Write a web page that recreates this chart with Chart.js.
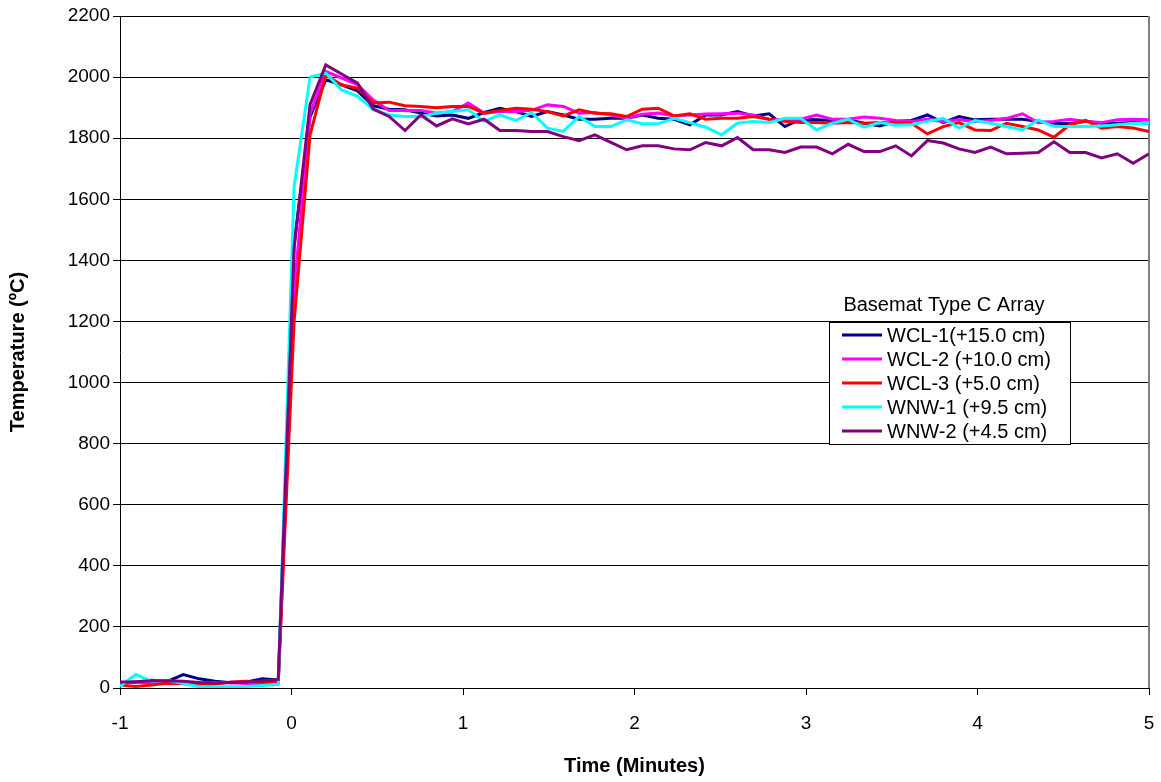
<!DOCTYPE html>
<html>
<head>
<meta charset="utf-8">
<title>Basemat Type C Array</title>
<script src="https://cdn.jsdelivr.net/npm/chart.js@4/dist/chart.umd.min.js"></script>
<style>
  html, body { margin: 0; padding: 0; background: #fff; }
  #wrap { width: 1161px; height: 782px; }
</style>
</head>
<body>
<div id="wrap"><canvas id="suhu" width="1161" height="782"></canvas></div>
<script>
"use strict";

// time in minutes (one reading every ~5.5 s)
var waktu = [
  -1.000, -0.908, -0.815, -0.723, -0.631, -0.538, -0.446, -0.354, -0.262, -0.169,
  -0.077, 0.015, 0.108, 0.200, 0.292, 0.385, 0.477, 0.569, 0.662, 0.754,
  0.846, 0.938, 1.031, 1.123, 1.215, 1.308, 1.400, 1.492, 1.585, 1.677,
  1.769, 1.862, 1.954, 2.046, 2.138, 2.231, 2.323, 2.415, 2.508, 2.600,
  2.692, 2.785, 2.877, 2.969, 3.062, 3.154, 3.246, 3.338, 3.431, 3.523,
  3.615, 3.708, 3.800, 3.892, 3.985, 4.077, 4.169, 4.262, 4.354, 4.446,
  4.538, 4.631, 4.723, 4.815, 4.908, 5.000
];

var wcl1 = [
  16, 20, 25, 22, 44, 30, 22, 17, 20, 30,
  26, 1450, 1870, 1991, 1975, 1955, 1906, 1895, 1893, 1882,
  1873, 1876, 1865, 1884, 1898, 1887, 1871, 1887, 1876, 1862,
  1862, 1865, 1865, 1876, 1865, 1862, 1844, 1876, 1876, 1887,
  1873, 1880, 1838, 1862, 1860, 1858, 1860, 1849, 1840, 1855,
  1858, 1876, 1851, 1871, 1860, 1862, 1862, 1862, 1855, 1849,
  1847, 1855, 1849, 1849, 1851, 1849
];
var wcl2 = [
  18, 20, 15, 14, 15, 16, 18, 17, 15, 14,
  18, 1300, 1880, 2018, 1997, 1975, 1925, 1891, 1891, 1891,
  1882, 1887, 1915, 1882, 1887, 1887, 1891, 1909, 1904, 1882,
  1884, 1876, 1865, 1878, 1882, 1873, 1876, 1879, 1880, 1882,
  1876, 1862, 1860, 1862, 1876, 1862, 1862, 1869, 1865, 1858,
  1855, 1862, 1855, 1860, 1855, 1858, 1865, 1880, 1851, 1855,
  1862, 1855, 1851, 1860, 1862, 1860
];
var wcl3 = [
  10, 5, 10, 16, 14, 10, 12, 20, 22, 18,
  20, 1200, 1810, 2007, 1974, 1964, 1915, 1918, 1906, 1904,
  1900, 1904, 1904, 1882, 1891, 1898, 1895, 1887, 1873, 1893,
  1882, 1880, 1871, 1895, 1898, 1873, 1880, 1862, 1865, 1865,
  1871, 1862, 1855, 1851, 1851, 1849, 1851, 1849, 1851, 1850,
  1849, 1814, 1838, 1851, 1827, 1825, 1849, 1838, 1827, 1803,
  1844, 1858, 1833, 1838, 1833, 1822
];
var wnw1 = [
  5, 44, 22, 25, 15, 4, 4, 4, 5, 8,
  12, 1640, 2000, 2013, 1958, 1937, 1893, 1876, 1871, 1871,
  1882, 1887, 1893, 1855, 1876, 1858, 1884, 1833, 1822, 1871,
  1838, 1838, 1860, 1847, 1847, 1865, 1851, 1836, 1811, 1849,
  1855, 1851, 1865, 1865, 1827, 1849, 1862, 1836, 1851, 1842,
  1844, 1855, 1865, 1833, 1858, 1849, 1838, 1827, 1860, 1838,
  1838, 1838, 1840, 1844, 1849, 1849
];
var wnw2 = [
  20, 20, 24, 24, 22, 18, 16, 18, 20, 24,
  28, 1440, 1910, 2040, 2010, 1980, 1895, 1871, 1825, 1876,
  1840, 1863, 1847, 1862, 1825, 1825, 1822, 1822, 1805, 1792,
  1811, 1786, 1762, 1775, 1775, 1765, 1762, 1786, 1775, 1802,
  1762, 1762, 1753, 1771, 1771, 1749, 1780, 1756, 1756, 1775,
  1742, 1792, 1784, 1765, 1753, 1771, 1749, 1751, 1753, 1788,
  1753, 1753, 1735, 1749, 1718, 1749
];

var namaSeri = [
  "WCL-1(+15.0 cm)",
  "WCL-2 (+10.0 cm)",
  "WCL-3 (+5.0 cm)",
  "WNW-1 (+9.5 cm)",
  "WNW-2 (+4.5 cm)"
];
var warnaSeri = ["#000080", "#FF00FF", "#FF0000", "#00FFFF", "#800080"];
var judulLegend = "Basemat Type C Array";

var huruf = "'Liberation Sans', Arial, Helvetica, sans-serif";

function titik(nilai) {
  return nilai.map(function (v, i) {
    return { x: waktu[i], y: v };
  });
}

// legend box drawn by hand, Excel style (title sits above the box)
var legendManual = {
  id: "legendManual",
  afterDraw: function (chart) {
    var ctx = chart.ctx;
    var kiri = 829, kanan = 1071, atas = 322, bawah = 445;
    ctx.save();
    ctx.fillStyle = "#fff";
    ctx.fillRect(kiri, atas, kanan - kiri, bawah - atas);
    ctx.strokeStyle = "#000";
    ctx.lineWidth = 1;
    ctx.strokeRect(kiri + 0.5, atas + 0.5, kanan - kiri - 1, bawah - atas - 1);

    ctx.font = "20px " + huruf;
    ctx.fillStyle = "#000";
    ctx.textBaseline = "middle";
    ctx.textAlign = "center";
    ctx.fillText(judulLegend, 944, 305);

    ctx.textAlign = "left";
    chart.data.datasets.forEach(function (ds, i) {
      var y = 335 + i * 24;
      ctx.strokeStyle = ds.borderColor;
      ctx.lineWidth = 3;
      ctx.beginPath();
      ctx.moveTo(842, y);
      ctx.lineTo(882, y);
      ctx.stroke();
      ctx.fillStyle = "#000";
      ctx.fillText(ds.label, 887, y + 1);
    });
    ctx.restore();
  }
};

// grey right edge of the plot area
var tepiKanan = {
  id: "tepiKanan",
  beforeDatasetsDraw: function (chart) {
    var a = chart.chartArea;
    var ctx = chart.ctx;
    ctx.save();
    ctx.strokeStyle = "#808080";
    ctx.lineWidth = 2;
    ctx.beginPath();
    ctx.moveTo(Math.round(a.right), a.top);
    ctx.lineTo(Math.round(a.right), a.bottom);
    ctx.stroke();
    ctx.restore();
  }
};

var dataSeri = [wcl1, wcl2, wcl3, wnw1, wnw2];

let grafikSuhu = new Chart(document.getElementById("suhu").getContext("2d"), {
  type: "line",
  data: {
    datasets: dataSeri.map(function (seri, i) {
      return {
        label: namaSeri[i],
        data: titik(seri),
        borderColor: warnaSeri[i],
        backgroundColor: warnaSeri[i],
        borderWidth: 3,
        pointRadius: 0,
        tension: 0,
        fill: false,
        order: dataSeri.length - i
      };
    })
  },
  options: {
    responsive: false,
    animation: false,
    layout: { padding: { top: 16, right: 12, left: 0, bottom: 0 } },
    plugins: {
      legend: { display: false },
      tooltip: { enabled: false }
    },
    scales: {
      x: {
        type: "linear",
        min: -1,
        max: 5,
        ticks: {
          stepSize: 1,
          color: "#000",
          padding: 17,
          font: { family: huruf, size: 19 },
          callback: function (v) { return String(v); }
        },
        grid: { drawOnChartArea: false, color: "#000", tickLength: 7 },
        border: { color: "#000" },
        title: {
          display: true,
          text: "Time (Minutes)",
          color: "#000",
          font: { family: huruf, size: 20, weight: "bold" },
          padding: { top: 0, bottom: 4 }
        },
        afterFit: function (s) {
          s.height = 94;
          // labels at the ends fit inside the layout padding already
          s.paddingLeft = 0;
          s.paddingRight = 0;
        }
      },
      y: {
        min: 0,
        max: 2200,
        ticks: {
          stepSize: 200,
          color: "#000",
          padding: 3,
          font: { family: huruf, size: 19 },
          callback: function (v) { return String(v); }
        },
        grid: { color: "#000", tickLength: 7 },
        border: { color: "#000" },
        title: {
          display: true,
          text: "Temperature (ºC)",
          color: "#000",
          font: { family: huruf, size: 20, weight: "bold" },
          padding: { top: 6, bottom: 0 }
        },
        afterFit: function (s) { s.width = 120; }
      }
    }
  },
  plugins: [tepiKanan, legendManual]
});
</script>
</body>
</html>
